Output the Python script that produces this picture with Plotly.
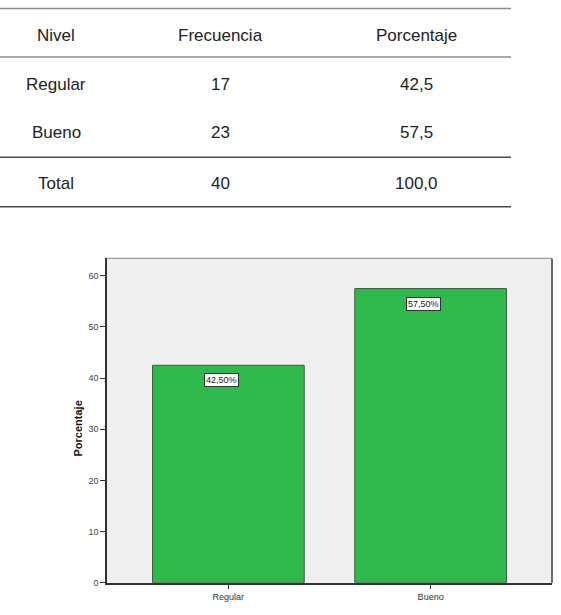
import plotly.graph_objects as go

# ---- data ----
niveles = ["Regular", "Bueno"]
frecuencias = [17, 23]
porcentajes = [42.5, 57.5]
total_label = "Total"
total_frec = 40
total_pct = 100.0
table_headers = ["Nivel", "Frecuencia", "Porcentaje"]
y_ticks = [0, 10, 20, 30, 40, 50, 60]

W, H = 561, 615
FONT = "Liberation Sans, Arial, sans-serif"


def px_x(x):
    return x / W


def px_y(y):
    return 1 - y / H


def fmt_es(v, d):
    return f"{v:.{d}f}".replace(".", ",")


fig = go.Figure()

fig.add_trace(go.Bar(
    x=list(range(len(niveles))),
    y=porcentajes,
    width=0.75,
    marker=dict(color="#2fb84b", line=dict(color="#3d5e44", width=1)),
    hoverinfo="skip",
))

shapes = []
annotations = []

# ---- table ----
col_x = [56, 220, 416]
row_y = [36, 85, 134, 185]
line_y = [8.5, 57.5, 158.5, 208.5]
line_cols = ["#8c8c8c", "#8c8c8c", "#4a4a4a", "#4a4a4a"]
for ly, lc in zip(line_y, line_cols):
    shapes.append(dict(type="line", xref="paper", yref="paper",
                       x0=0, x1=px_x(511), y0=px_y(ly), y1=px_y(ly),
                       line=dict(color=lc, width=1.5)))

rows = [table_headers]
for n, f, p in zip(niveles, frecuencias, porcentajes):
    rows.append([n, str(f), fmt_es(p, 1)])
rows.append([total_label, str(total_frec), fmt_es(total_pct, 1)])

for r, row in enumerate(rows):
    for c, txt in enumerate(row):
        annotations.append(dict(
            xref="paper", yref="paper", x=px_x(col_x[c]), y=px_y(row_y[r]),
            text=txt, showarrow=False, xanchor="center", yanchor="middle",
            font=dict(family=FONT, size=17, color="#222222")))

# ---- bar labels ----
for i, p in enumerate(porcentajes):
    annotations.append(dict(
        x=i, y=p, xref="x", yref="y", text=fmt_es(p, 2) + "%",
        showarrow=False, yshift=-15, xshift=-7, xanchor="center", yanchor="middle",
        bgcolor="white", bordercolor="#333333", borderwidth=1, borderpad=1,
        font=dict(family=FONT, size=9, color="#222222")))

# y-axis title
annotations.append(dict(
    xref="paper", yref="paper", x=px_x(78), y=px_y(432), text="<b>Porcentaje</b>",
    showarrow=False, textangle=-90, xanchor="center", yanchor="middle",
    font=dict(family=FONT, size=11, color="#111111")))

# plot frame top and right
x0d, x1d = 107 / W, 552 / W
y0d, y1d = (H - 587.5) / H, (H - 260.5) / H
shapes.append(dict(type="line", xref="paper", yref="paper", x0=x0d, x1=x1d,
                   y0=y1d, y1=y1d, line=dict(color="#9a9a9a", width=1.2)))
shapes.append(dict(type="line", xref="paper", yref="paper", x0=x1d, x1=x1d,
                   y0=y0d, y1=y1d, line=dict(color="#6a6a6a", width=2)))

fig.update_layout(
    width=W, height=H,
    margin=dict(l=0, r=0, t=0, b=0),
    paper_bgcolor="white",
    plot_bgcolor="#efefef",
    showlegend=False,
    shapes=shapes,
    annotations=annotations,
    xaxis=dict(
        domain=[x0d, x1d], range=[-0.6, 1.6],
        tickvals=list(range(len(niveles))), ticktext=niveles,
        ticks="outside", ticklen=5, tickcolor="#333333",
        showline=True, linecolor="#333333", linewidth=1.5,
        showgrid=False, zeroline=False, fixedrange=True,
        tickfont=dict(family=FONT, size=9, color="#333333"),
    ),
    yaxis=dict(
        domain=[y0d, y1d], range=[0, 63.4],
        tickvals=y_ticks, ticks="outside", ticklen=5, tickcolor="#333333",
        showline=True, linecolor="#333333", linewidth=1.5,
        showgrid=False, zeroline=False, fixedrange=True,
        tickfont=dict(family=FONT, size=9, color="#444444"),
    ),
)

fig.write_html("out.html")
